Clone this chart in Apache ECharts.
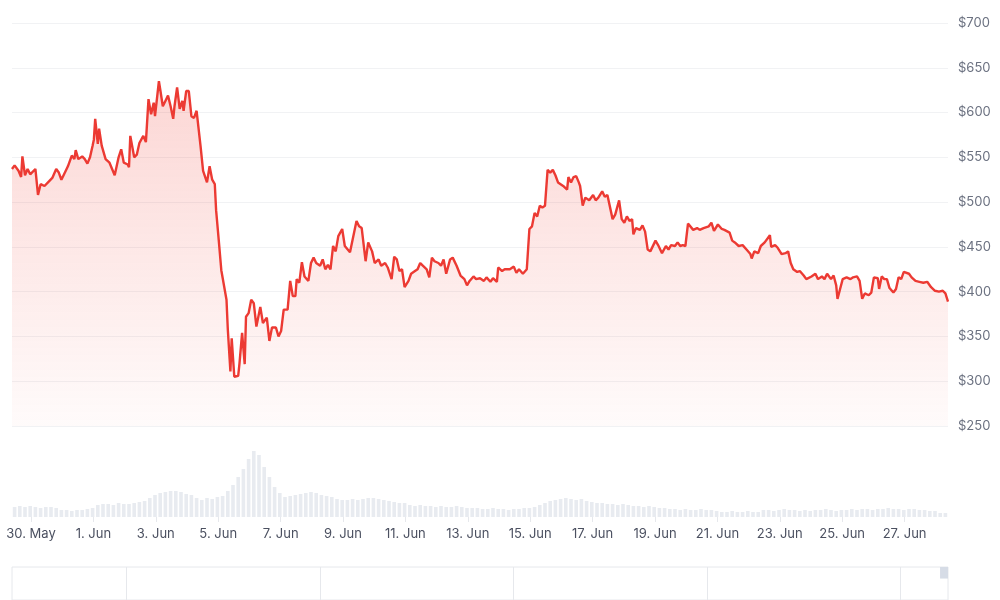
<!DOCTYPE html>
<html>
<head>
<meta charset="utf-8">
<script src="https://cdn.jsdelivr.net/npm/echarts@6/dist/echarts.min.js"></script>
<style>
  html, body { margin: 0; padding: 0; background: #fff; }
  #chart { width: 1000px; height: 600px; }
</style>
</head>
<body>
<div id="chart"></div>
<script>
// price sampled at hour offsets from the window start (29 May 09:23 UTC)
const START = Date.UTC(2024, 4, 29, 9, 23)
const HOUR = 3600 * 1000
const SPAN_HOURS = 720

const priceHours = [
  0, 2, 5, 7, 8, 10, 12, 14, 18, 20, 22, 25, 29, 31, 34, 36, 38, 42, 43, 46,
  48, 49, 51, 54, 56, 58, 60, 62, 63, 64, 66, 67, 69, 72, 75, 79, 82, 84, 86, 89,
  90, 91, 94, 96, 98, 101, 103, 105, 107, 109, 110, 113, 114, 116, 118, 120, 122, 124, 125, 127,
  129, 131, 132, 134, 136, 138, 140, 142, 145, 147, 148, 150, 152, 154, 156, 157, 159, 161, 165, 166,
  168, 169, 171, 174, 175, 177, 179, 180, 182, 184, 186, 188, 191, 193, 196, 198, 200, 203, 205, 207,
  209, 212, 214, 216, 218, 219, 221, 223, 225, 228, 230, 232, 234, 237, 239, 241, 243, 245, 247, 249,
  251, 254, 256, 260, 262, 265, 267, 269, 272, 274, 277, 279, 282, 284, 287, 289, 292, 294, 296, 298,
  300, 302, 305, 307, 310, 312, 314, 316, 319, 321, 323, 325, 328, 330, 332, 334, 337, 339, 342, 345,
  348, 350, 352, 355, 357, 360, 363, 365, 368, 370, 373, 374, 377, 379, 383, 386, 388, 390, 393, 396,
  398, 400, 402, 404, 406, 408, 410, 412, 414, 416, 418, 420, 424, 427, 428, 430, 432, 434, 436, 437,
  439, 441, 444, 447, 449, 451, 454, 456, 458, 459, 462, 464, 467, 469, 471, 473, 475, 477, 478, 480,
  483, 485, 487, 489, 491, 495, 497, 500, 503, 505, 507, 510, 512, 514, 516, 518, 520, 524, 527, 529,
  532, 533, 536, 538, 540, 543, 546, 548, 552, 554, 556, 559, 562, 565, 568, 569, 571, 574, 576, 579,
  583, 584, 587, 589, 592, 595, 597, 599, 601, 604, 606, 609, 611, 615, 618, 620, 623, 625, 627, 630,
  632, 634, 635, 637, 639, 642, 645, 647, 650, 652, 654, 656, 659, 661, 663, 666, 667, 669, 671, 673,
  675, 678, 680, 682, 684, 686, 690, 692, 695, 698, 701, 704, 707, 710, 713, 716, 718, 720
]
const prices = [
  537, 541, 535, 528, 551, 530, 537, 531, 537, 508, 520, 518, 524, 527, 537, 533, 525, 537, 540, 552,
  548, 558, 548, 551, 548, 543, 550, 563, 570, 593, 565, 582, 563, 548, 544, 530, 550, 559, 544, 542,
  539, 574, 550, 553, 566, 574, 567, 615, 598, 611, 596, 635, 626, 607, 613, 619, 607, 593, 607, 628,
  604, 613, 602, 624, 624, 596, 594, 602, 563, 535, 537, 522, 540, 525, 520, 491, 458, 424, 391, 358,
  311, 348, 305, 306, 320, 354, 319, 372, 376, 391, 387, 361, 383, 365, 371, 345, 360, 360, 350, 356,
  380, 380, 412, 395, 395, 414, 410, 433, 417, 412, 432, 438, 432, 429, 436, 425, 430, 425, 451, 445,
  462, 470, 451, 444, 458, 479, 473, 471, 434, 455, 445, 432, 436, 429, 432, 427, 414, 439, 436, 423,
  425, 405, 412, 420, 423, 425, 432, 429, 425, 416, 438, 434, 432, 429, 436, 420, 436, 438, 429, 418,
  414, 407, 412, 417, 414, 415, 412, 416, 411, 415, 411, 427, 423, 425, 425, 428, 421, 425, 420, 425,
  470, 473, 488, 484, 496, 494, 496, 536, 533, 536, 530, 522, 518, 514, 528, 522, 528, 529, 522, 518,
  496, 505, 502, 508, 502, 505, 512, 506, 508, 506, 481, 486, 502, 481, 477, 484, 479, 481, 464, 471,
  469, 474, 467, 447, 445, 457, 452, 443, 451, 447, 452, 451, 455, 451, 452, 451, 476, 469, 471, 469,
  471, 469, 473, 477, 468, 475, 470, 469, 466, 457, 455, 451, 452, 447, 442, 437, 445, 443, 451, 455,
  463, 450, 452, 449, 442, 443, 445, 432, 425, 422, 423, 418, 414, 417, 420, 414, 417, 414, 420, 414,
  418, 407, 392, 403, 414, 416, 414, 416, 417, 412, 392, 398, 396, 399, 416, 415, 403, 417, 414, 414,
  404, 399, 403, 416, 414, 422, 420, 416, 412, 411, 410, 411, 405, 401, 400, 401, 398, 389
]

// volume in 4-hour buckets (relative units)
const volumes = [
  10, 11, 10, 11, 10, 9, 10, 10, 9, 7, 7, 6, 7, 7, 8, 9,
  12, 13, 13, 12, 14, 13, 13, 14, 15, 16, 19,
  22, 24, 25, 26, 26, 25, 23, 22, 19, 17, 19, 18, 20, 21,
  26, 32, 40, 48, 58, 66, 62, 50, 40, 30, 24,
  20, 21, 22, 23, 24, 25, 24, 22, 21, 20,
  18, 17, 17, 18, 17, 18, 19, 19, 18, 17, 16, 15, 14, 14,
  12, 11, 12, 11, 11, 10, 11, 10, 10, 11, 10, 9, 9,
  9, 8, 8, 9, 8, 8, 7, 8, 8, 9, 9, 10,
  12, 14, 16, 17, 18, 19, 18, 17, 18, 16,
  15, 14, 14, 13, 13, 12, 13, 12, 11, 11, 10, 11, 10, 9, 9,
  8, 8, 7, 8, 7, 7, 8, 7, 7, 6, 5, 5, 6, 5, 5, 6, 5, 5,
  7, 7, 6, 7, 8, 7, 7, 6, 7, 6, 7, 7, 8, 7, 6, 7, 7,
  8, 7, 8, 8, 7, 8, 8, 9, 8, 8, 7, 8, 8, 7, 7, 6, 6, 4, 4
]
const VOLUME_BUCKET_HOURS = 4

const tickDates = [
  '2024-05-30', '2024-06-01', '2024-06-03', '2024-06-05', '2024-06-07',
  '2024-06-09', '2024-06-11', '2024-06-13', '2024-06-15', '2024-06-17',
  '2024-06-19', '2024-06-21', '2024-06-23', '2024-06-25', '2024-06-27'
]
const monthNames = ['Jan', 'Feb', 'Mar', 'Apr', 'May', 'Jun', 'Jul', 'Aug', 'Sep', 'Oct', 'Nov', 'Dec']

// navigator (full history): gridlines every two years, selected window = last 30 days
const navStart = '2014-10-27'
const navYears = ['2016-01-01', '2018-01-01', '2020-01-01', '2022-01-01', '2024-01-01']

const END = START + SPAN_HOURS * HOUR
const priceData = priceHours.map((h, i) => [START + h * HOUR, prices[i]])
const volumeData = volumes.map((v, i) => [START + (i * VOLUME_BUCKET_HOURS + VOLUME_BUCKET_HOURS / 2) * HOUR, v])
const tickTimes = tickDates.map(d => Date.parse(d))

const chart = echarts.init(document.getElementById('chart'))
chart.setOption({
  animation: false,
  textStyle: { fontFamily: 'Inter, "Noto Sans", sans-serif' },
  grid: [
    { left: 12, right: 52, top: 23, height: 403 },
    { left: 12, right: 52, top: 440, height: 77 },
    { left: 12, right: 52, top: 567, height: 60, show: true, borderColor: '#e6e8ec', borderWidth: 1 },
  ],
  xAxis: [
    { type: 'value', gridIndex: 0, min: START, max: END, show: false },
    {
      type: 'value',
      gridIndex: 1,
      min: START,
      max: END,
      axisLine: { show: false },
      splitLine: { show: false },
      axisTick: {
        show: true,
        customValues: tickTimes,
        length: 5,
        lineStyle: { color: '#e6e8ec' },
      },
      axisLabel: {
        customValues: tickTimes,
        color: '#4b5060',
        fontSize: 13,
        margin: 11,
        formatter: v => {
          const d = new Date(v)
          return d.getUTCDate() + '. ' + monthNames[d.getUTCMonth()]
        },
      },
    },
    {
      type: 'value',
      gridIndex: 2,
      min: Date.parse(navStart),
      max: END,
      show: false,
    },
  ],
  yAxis: [
    {
      type: 'value',
      gridIndex: 0,
      position: 'right',
      min: 250,
      max: 700,
      interval: 50,
      axisLine: { show: false },
      axisTick: { show: false },
      axisLabel: { color: '#6b7180', fontSize: 13, margin: 10, formatter: v => '$' + v },
      splitLine: { lineStyle: { color: '#f1f2f4', width: 1 } },
    },
    { type: 'value', gridIndex: 1, min: 0, max: 77, show: false },
    { type: 'value', gridIndex: 2, min: 0, max: 1, show: false },
  ],
  series: [
    {
      name: 'Volume',
      type: 'bar',
      xAxisIndex: 1,
      yAxisIndex: 1,
      data: volumeData,
      barWidth: 3.6,
      itemStyle: { color: '#e8ebf0' },
      silent: true,
    },
    {
      name: 'Price',
      type: 'line',
      xAxisIndex: 0,
      yAxisIndex: 0,
      data: priceData,
      showSymbol: false,
      lineStyle: { width: 2.4, color: '#ec3a33' },
      areaStyle: {
        color: {
          type: 'linear',
          x: 0, y: 0, x2: 0, y2: 1,
          colorStops: [
            { offset: 0, color: 'rgba(240,62,52,0.30)' },
            { offset: 1, color: 'rgba(240,62,52,0.03)' },
          ],
        },
      },
    },
    {
      name: 'Navigator',
      type: 'line',
      xAxisIndex: 2,
      yAxisIndex: 2,
      data: [],
      silent: true,
      markLine: {
        silent: true,
        symbol: 'none',
        label: { show: false },
        lineStyle: { color: '#e6e8ec', width: 1, type: 'solid' },
        data: navYears.map(d => ({ xAxis: Date.parse(d) })),
      },
      markArea: {
        silent: true,
        itemStyle: { color: '#d6dce6' },
        data: [[{ xAxis: START, yAxis: 0.65 }, { xAxis: END, yAxis: 1 }]],
      },
    },
  ],
})
</script>
</body>
</html>
